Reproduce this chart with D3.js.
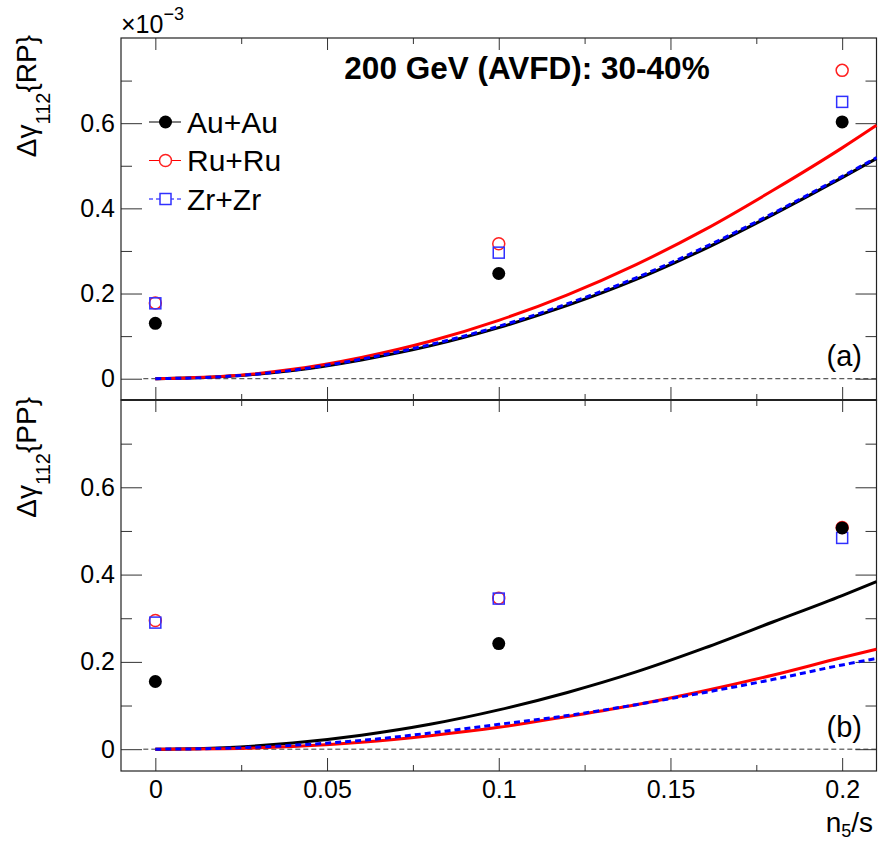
<!DOCTYPE html>
<html>
<head>
<meta charset="utf-8">
<script src="https://cdn.jsdelivr.net/npm/d3@7"></script>
<style>
  body { margin: 0; background: #fff; }
  svg { display: block; font-family: "Liberation Sans", Arial, sans-serif; }
</style>
</head>
<body>
<script>
// Constant values
const w = 880;
const h = 843;

// Data (units of 1e-3)
const xPoints = [0, 0.1, 0.2];
const rpAu = [0.130, 0.247, 0.603];
const rpRu = [0.178, 0.317, 0.724];
const rpZr = [0.177, 0.296, 0.650];
const ppAu = [0.155, 0.242, 0.507];
const ppRu = [0.295, 0.346, 0.508];
const ppZr = [0.290, 0.345, 0.484];

// AVFD curves
const curveX = [0, 0.02, 0.04, 0.06, 0.08, 0.10, 0.12, 0.14, 0.16, 0.18, 0.20, 0.21];
const rpAuCurve = [0, 0.005, 0.019, 0.044, 0.077, 0.120, 0.172, 0.233, 0.305, 0.386, 0.472, 0.517];
const rpRuCurve = [0, 0.0055, 0.022, 0.050, 0.088, 0.137, 0.197, 0.268, 0.350, 0.443, 0.542, 0.595];
const rpZrCurve = [0, 0.005, 0.020, 0.046, 0.080, 0.123, 0.176, 0.237, 0.309, 0.389, 0.475, 0.519];
const ppAuCurve = [0, 0.0035, 0.014, 0.032, 0.057, 0.090, 0.130, 0.177, 0.232, 0.292, 0.352, 0.384];
const ppRuCurve = [0, 0.001, 0.006, 0.016, 0.031, 0.050, 0.075, 0.102, 0.134, 0.170, 0.210, 0.229];
const ppZrCurve = [0, 0.002, 0.009, 0.020, 0.037, 0.057, 0.077, 0.102, 0.130, 0.160, 0.193, 0.208];

const xMajor = [0, 0.05, 0.1, 0.15, 0.2];
const xMinor = [0.025, 0.075, 0.125, 0.175];
const yMajor = [0, 0.2, 0.4, 0.6];
const yMinor = [0.1, 0.3, 0.5, 0.7];

const systems = ["Au+Au", "Ru+Ru", "Zr+Zr"];
const colors = {"Au+Au": "#000000", "Ru+Ru": "#ff0000", "Zr+Zr": "#0000ff"};

// Svg canvas
const svg = d3.select('body')
  .append('svg')
  .attr('width', w)
  .attr('height', h);

// Scales
const xScale = d3.scaleLinear().domain([-0.01, 0.21]).range([121, 876.5]);

const panels = [
  {name: 'RP', label: '(a)', y0: 38, y1: 400,
   points: [rpAu, rpRu, rpZr], curves: [rpAuCurve, rpRuCurve, rpZrCurve]},
  {name: 'PP', label: '(b)', y0: 400, y1: 771,
   points: [ppAu, ppRu, ppZr], curves: [ppAuCurve, ppRuCurve, ppZrCurve]}
];

const fmtY = (d) => d === 0 ? '0' : d3.format('.1f')(d);

panels.forEach((p, pi) => {
  const yScale = d3.scaleLinear().domain([-0.05, 0.8]).range([p.y1, p.y0]);
  const g = svg.append('g');
  const left = xScale.range()[0], right = xScale.range()[1];

  // y ticks, left and right
  g.append('g').attr('transform', `translate(${left},0)`)
    .call(d3.axisLeft(yScale).tickValues(yMajor).tickSize(-21).tickPadding(6).tickFormat(fmtY));
  g.append('g').attr('transform', `translate(${left},0)`)
    .call(d3.axisLeft(yScale).tickValues(yMinor).tickSize(-11).tickFormat(''));
  g.append('g').attr('transform', `translate(${right},0)`)
    .call(d3.axisRight(yScale).tickValues(yMajor).tickSize(-21).tickFormat(''));
  g.append('g').attr('transform', `translate(${right},0)`)
    .call(d3.axisRight(yScale).tickValues(yMinor).tickSize(-11).tickFormat(''));

  // x ticks, bottom and top
  g.append('g').attr('transform', `translate(0,${p.y1})`)
    .call(d3.axisBottom(xScale).tickValues(xMajor).tickSize(-13).tickPadding(9)
      .tickFormat(pi === 1 ? d3.format('~g') : ''));
  g.append('g').attr('transform', `translate(0,${p.y1})`)
    .call(d3.axisBottom(xScale).tickValues(xMinor).tickSize(-6).tickFormat(''));
  g.append('g').attr('transform', `translate(0,${p.y0})`)
    .call(d3.axisTop(xScale).tickValues(xMajor).tickSize(-12).tickFormat(''));
  g.append('g').attr('transform', `translate(0,${p.y0})`)
    .call(d3.axisTop(xScale).tickValues(xMinor).tickSize(-6).tickFormat(''));

  g.selectAll('.domain').remove();
  g.selectAll('.tick line').attr('stroke', '#333').attr('stroke-width', 1);
  g.selectAll('.tick text').attr('font-size', 25).attr('fill', '#000')
    .attr('font-family', '"Liberation Sans", Arial, sans-serif');

  // Frame
  g.append('rect')
    .attr('x', left).attr('y', p.y0)
    .attr('width', right - left).attr('height', p.y1 - p.y0)
    .attr('fill', 'none').attr('stroke', '#222').attr('stroke-width', 1.2);

  // Zero dashed line
  g.append('line')
    .attr('x1', xScale(-0.0035)).attr('x2', xScale(0.21))
    .attr('y1', yScale(0)).attr('y2', yScale(0))
    .attr('stroke', '#333').attr('stroke-width', 1).attr('stroke-dasharray', '5,3');

  // Curves
  const line = d3.line()
    .x((d) => xScale(d[0]))
    .y((d) => yScale(d[1]))
    .curve(d3.curveMonotoneX);
  systems.forEach((s, i) => {
    g.append('path')
      .datum(curveX.map((x, k) => [x, p.curves[i][k]]))
      .attr('d', line)
      .attr('fill', 'none')
      .attr('stroke', colors[s])
      .attr('stroke-width', 3)
      .attr('stroke-dasharray', s === 'Zr+Zr' ? '6,4' : null);
  });

  // Markers (Ru, Zr, then Au on top)
  [1, 2, 0].forEach((i) => {
    const s = systems[i];
    const pts = xPoints.map((x, k) => [x, p.points[i][k]]);
    if (s === 'Au+Au') {
      g.selectAll(null).data(pts).enter().append('circle')
        .attr('cx', (d) => xScale(d[0])).attr('cy', (d) => yScale(d[1]))
        .attr('r', 6.5).attr('fill', '#000');
    } else if (s === 'Ru+Ru') {
      g.selectAll(null).data(pts).enter().append('circle')
        .attr('cx', (d) => xScale(d[0])).attr('cy', (d) => yScale(d[1]))
        .attr('r', 6).attr('fill', 'none').attr('stroke', '#ff2020').attr('stroke-width', 1.5);
    } else {
      g.selectAll(null).data(pts).enter().append('rect')
        .attr('x', (d) => xScale(d[0]) - 5.5).attr('y', (d) => yScale(d[1]) - 5.5)
        .attr('width', 11).attr('height', 11)
        .attr('fill', 'none').attr('stroke', '#3030ff').attr('stroke-width', 1.5);
    }
  });

  // Panel label
  g.append('text')
    .attr('x', 862).attr('y', p.y1 - 34)
    .attr('text-anchor', 'end')
    .attr('font-size', 29)
    .text(p.label);

  // Y axis title
  const yt = g.append('text')
    .attr('transform', `translate(36,${p.y0 - 3}) rotate(-90)`)
    .attr('text-anchor', 'end')
    .attr('font-size', 28);
  yt.append('tspan').text('\u0394\u03b3');
  yt.append('tspan').attr('font-size', 20).attr('dy', 14).text('112');
  yt.append('tspan').attr('dy', -14).text(`{${p.name}}`);
});

// Separator between panels
svg.append('line')
  .attr('x1', xScale.range()[0]).attr('x2', xScale.range()[1])
  .attr('y1', 400).attr('y2', 400)
  .attr('stroke', '#222').attr('stroke-width', 2);

// Exponent label
const ex = svg.append('text').attr('x', 121).attr('y', 33).attr('font-size', 25);
ex.append('tspan').text('\u00d710');
ex.append('tspan').attr('font-size', 18).attr('dy', -13).text('\u22123');

// Title
svg.append('text')
  .attr('x', 527).attr('y', 79)
  .attr('text-anchor', 'middle')
  .attr('font-size', 31.5)
  .attr('font-weight', 'bold')
  .text('200 GeV (AVFD): 30-40%');

// Legend
const legend = svg.append('g');
systems.forEach((s, i) => {
  const ly = 122 + i * 38.5;
  const row = legend.append('g').attr('transform', `translate(0,${ly})`);
  row.append('line')
    .attr('x1', 149).attr('x2', 181).attr('y1', 0).attr('y2', 0)
    .attr('stroke', colors[s]).attr('stroke-width', 1)
    .attr('stroke-dasharray', s === 'Zr+Zr' ? '4,3' : null);
  if (s === 'Au+Au') {
    row.append('circle').attr('cx', 165.5).attr('cy', 0).attr('r', 6.5).attr('fill', '#000');
  } else if (s === 'Ru+Ru') {
    row.append('circle').attr('cx', 165.5).attr('cy', 0).attr('r', 6)
      .attr('fill', '#fff').attr('stroke', '#ff2020').attr('stroke-width', 1.5);
  } else {
    row.append('rect').attr('x', 160).attr('y', -5.5).attr('width', 11).attr('height', 11)
      .attr('fill', '#fff').attr('stroke', '#3030ff').attr('stroke-width', 1.5);
  }
  row.append('text')
    .attr('x', 187).attr('y', 10.5)
    .attr('font-size', 30)
    .text(s);
});

// X axis title
const xt = svg.append('text')
  .attr('x', 873).attr('y', 832)
  .attr('text-anchor', 'end')
  .attr('font-size', 28);
xt.append('tspan').text('n');
xt.append('tspan').attr('font-size', 18).attr('dy', 5).text('5');
xt.append('tspan').attr('dy', -5).text('/s');
</script>
</body>
</html>
